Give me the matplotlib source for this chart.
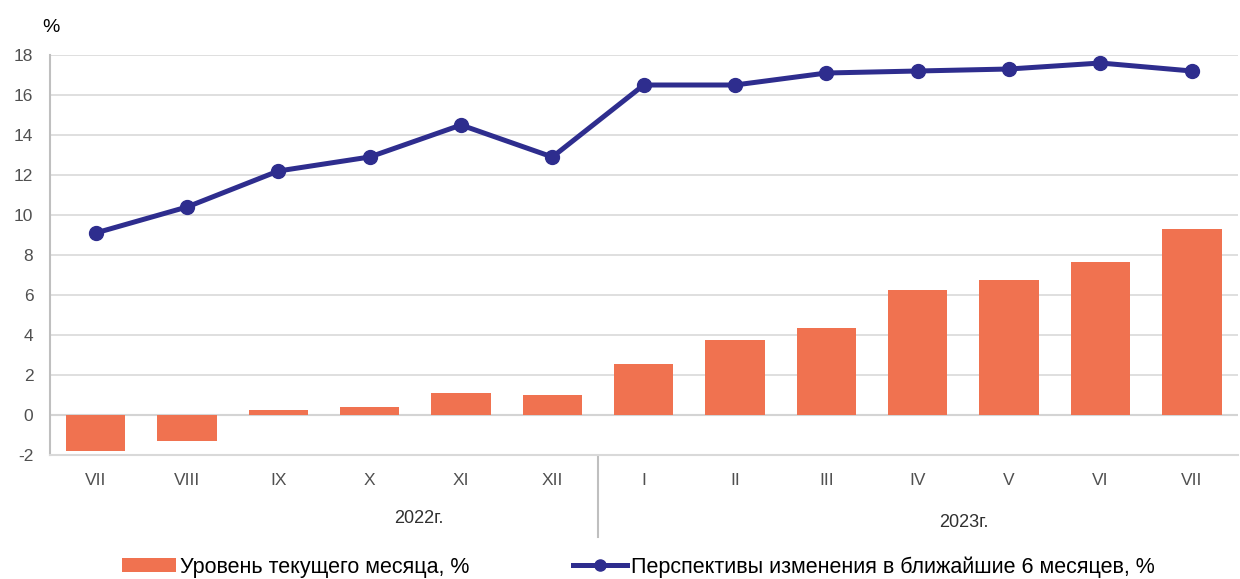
import matplotlib
matplotlib.use("Agg")
import matplotlib.pyplot as plt
from matplotlib.lines import Line2D
from matplotlib.patches import Patch

plt.rcParams['font.family'] = ['Liberation Sans', 'DejaVu Sans']
plt.rcParams['axes.unicode_minus'] = False

months = ["VII", "VIII", "IX", "X", "XI", "XII", "I", "II", "III", "IV", "V", "VI", "VII"]
bars = [-1.8, -1.3, 0.25, 0.4, 1.1, 1.0, 2.55, 3.75, 4.35, 6.25, 6.75, 7.65, 9.3]
line = [9.1, 10.4, 12.2, 12.9, 14.5, 12.9, 16.5, 16.5, 17.1, 17.2, 17.3, 17.6, 17.2]
years = ["2022г.", "2023г."]
bar_label = "Уровень текущего месяца, %"
line_label = "Перспективы изменения в ближайшие 6 месяцев, %"

bar_color = "#F07250"
line_color = "#2E2D8E"
grid_color = "#D9D9D9"
text_color = "#505050"

fig = plt.figure(figsize=(12.4, 5.79), dpi=100)
ax = fig.add_axes([0.0403, 0.2142, 0.9577, 0.6908])

x = list(range(len(months)))
ax.bar(x, bars, width=0.65, color=bar_color, zorder=2)
ax.plot(x, line, color=line_color, lw=3.6, marker="o", ms=10, zorder=3,
        solid_capstyle="round")

ax.set_xlim(-0.5, len(months) - 0.5)
ax.set_ylim(-2, 18)
ax.set_yticks(range(-2, 19, 2))
ax.grid(axis="y", color=grid_color, lw=1.2, zorder=0)
ax.axhline(0, color="#BFBFBF", lw=1.5, zorder=1)
for s in ["top", "right"]:
    ax.spines[s].set_visible(False)
ax.spines["left"].set_color("#BFBFBF")
ax.spines["left"].set_linewidth(1.5)
ax.spines["bottom"].set_color(grid_color)
ax.spines["bottom"].set_linewidth(1.5)
ax.set_xticks(x)
ax.set_xticklabels(months)
ax.tick_params(axis="both", length=0, labelsize=12.5, colors=text_color)
ax.tick_params(axis="x", pad=13)
ax.tick_params(axis="y", pad=12)

fig.text(0.034, 0.953, "%", fontsize=14, color="black", ha="left", va="center")

# year separator and labels
xt = ax.get_xaxis_transform()
ax.plot([5.5, 5.5], [-0.005, -0.205], transform=xt, color="#BFBFBF", lw=1.5, clip_on=False)
ax.text(3.54, -0.16, years[0], transform=xt, ha="center", va="center", fontsize=13, color="#303030")
ax.text(9.5, -0.168, years[1], transform=xt, ha="center", va="center", fontsize=13, color="#303030")

handles = [Patch(facecolor=bar_color, label=bar_label),
           Line2D([0], [0], color=line_color, lw=3.6, marker="o", ms=8, label=line_label)]
fig.legend(handles=handles, loc="center", bbox_to_anchor=(0.515, 0.021), ncol=2, frameon=False,
           fontsize=15.5, handlelength=2.5, handleheight=0.6, handletextpad=0.2, columnspacing=4.8)

fig.savefig("out.png", dpi=100)
